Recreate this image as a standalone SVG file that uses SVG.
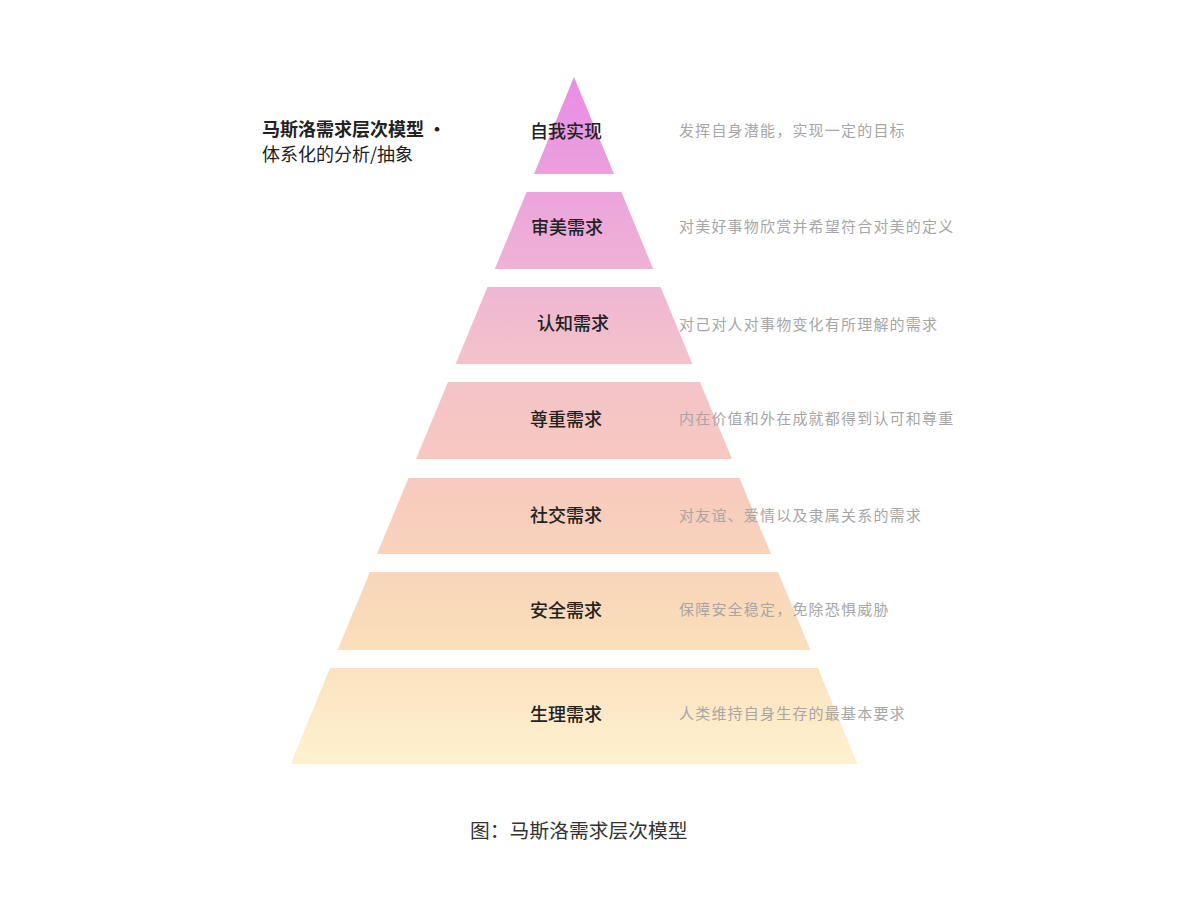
<svg xmlns="http://www.w3.org/2000/svg" width="1193" height="898" viewBox="0 0 1193 898">
<defs>
<linearGradient id="pg" gradientUnits="userSpaceOnUse" x1="0" y1="77" x2="0" y2="764">
<stop offset="0" stop-color="#e88ce6"/>
<stop offset="0.2" stop-color="#eda8da"/>
<stop offset="0.4" stop-color="#f3c1cc"/>
<stop offset="0.6" stop-color="#f7cbbd"/>
<stop offset="0.8" stop-color="#fadcb9"/>
<stop offset="1" stop-color="#fff1cf"/>
</linearGradient>
</defs>
<style>
.lv{fill:url(#pg)}
.lb{font-family:"Noto Sans CJK SC","Noto Sans",sans-serif;font-size:18px;font-weight:500;fill:#222}
.ds{font-family:"Noto Sans CJK SC","Noto Sans",sans-serif;font-size:15px;fill:#a6a6a6;letter-spacing:1.2px}
.tt{font-family:"Noto Sans CJK SC","Noto Sans",sans-serif;font-size:18px;fill:#222}
.cap{font-family:"Noto Sans CJK SC","Noto Sans",sans-serif;font-size:19.8px;fill:#333}
</style>
<rect width="1193" height="898" fill="#ffffff"/>
<g id="title">
<text class="tt" x="262" y="136" font-weight="700">马斯洛需求层次模型 ·</text>
<text class="tt" x="262" y="161">体系化的分析/抽象</text>
</g>
<g id="connectors"></g>
<g id="level1">
<polygon class="lv" points="574,77 614,174 534,174"/>
<text class="lb" x="530" y="138">自我实现</text>
<text class="ds" x="679" y="136">发挥自身潜能，实现一定的目标</text>
</g>
<g id="level2">
<polygon class="lv" points="526.6,192 621.4,192 653.2,269 494.8,269"/>
<text class="lb" x="531" y="234">审美需求</text>
<text class="ds" x="679" y="232">对美好事物欣赏并希望符合对美的定义</text>
</g>
<g id="level3">
<polygon class="lv" points="487.4,287 660.6,287 692.4,364 455.6,364"/>
<text class="lb" x="537" y="330">认知需求</text>
<text class="ds" x="679" y="330">对己对人对事物变化有所理解的需求</text>
</g>
<g id="level4">
<polygon class="lv" points="448,382 700,382 732,459 416,459"/>
<text class="lb" x="530" y="426">尊重需求</text>
<text class="ds" x="679" y="424">内在价值和外在成就都得到认可和尊重</text>
</g>
<g id="level5">
<polygon class="lv" points="408.6,478 739.4,478 771,554 377,554"/>
<text class="lb" x="530" y="522">社交需求</text>
<text class="ds" x="679" y="521">对友谊、爱情以及隶属关系的需求</text>
</g>
<g id="level6">
<polygon class="lv" points="370,572 778,572 810.4,650 337.6,650"/>
<text class="lb" x="530" y="617">安全需求</text>
<text class="ds" x="679" y="615">保障安全稳定，免除恐惧威胁</text>
</g>
<g id="level7">
<polygon class="lv" points="330,668 818,668 857.4,764 290.6,764"/>
<text class="lb" x="530" y="721">生理需求</text>
<text class="ds" x="679" y="719">人类维持自身生存的最基本要求</text>
</g>
<g id="caption">
<text class="cap" x="470" y="838">图：马斯洛需求层次模型</text>
</g>
</svg>
